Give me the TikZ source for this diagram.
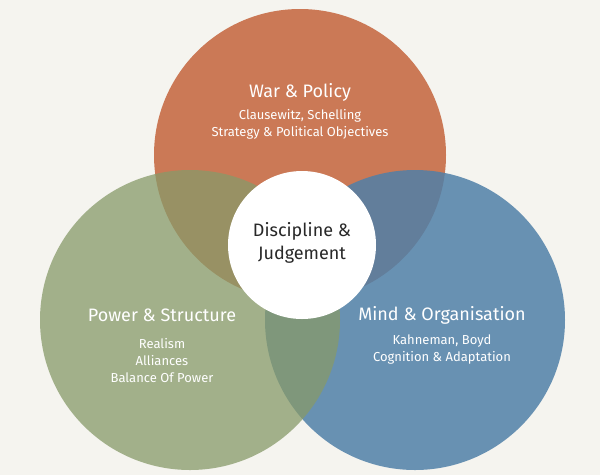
\documentclass[tikz,border=0pt]{standalone}
\usepackage{fontspec}
\setmainfont{Fira Sans}
\begin{document}
\begin{tikzpicture}[x=1pt,y=-1pt,
  circ/.style={fill opacity=0.85,draw=none},
  ttl/.style={text=white,font=\fontsize{18}{21}\selectfont,align=center},
  sub/.style={text=white,font=\fontsize{13}{17}\selectfont,align=center}]
\fill[fill={rgb,255:red,245;green,244;blue,239}] (0,0) rectangle (600,475);
\useasboundingbox (0,0) rectangle (600,475);
\fill[circ,fill={rgb,255:red,196;green,100;blue,60}] (300,155) circle (146);
\fill[circ,fill={rgb,255:red,80;green,128;blue,168}] (415,320) circle (150);
\fill[circ,fill={rgb,255:red,135;green,154;blue,105},fill opacity=0.75] (190,320) circle (150);
\node[circle,fill=white,minimum size=148,inner sep=0] (c) at (302,245) {};
\node[align=center,font=\fontsize{18}{23}\selectfont,text={rgb,255:red,40;green,40;blue,40}] (ct) at (302,243) {Discipline \&\\Judgement};
\node[ttl] (t1) at (300,92) {War \& Policy};
\node[sub] (s1) at (300,124) {Clausewitz, Schelling\\Strategy \& Political Objectives};
\node[ttl] (t2) at (162,315) {Power \& Structure};
\node[sub] (s2) at (162,360) {Realism\\Alliances\\Balance Of Power};
\node[ttl] (t3) at (442,315) {Mind \& Organisation};
\node[sub] (s3) at (442,350) {Kahneman, Boyd\\Cognition \& Adaptation};
\end{tikzpicture}
\end{document}
